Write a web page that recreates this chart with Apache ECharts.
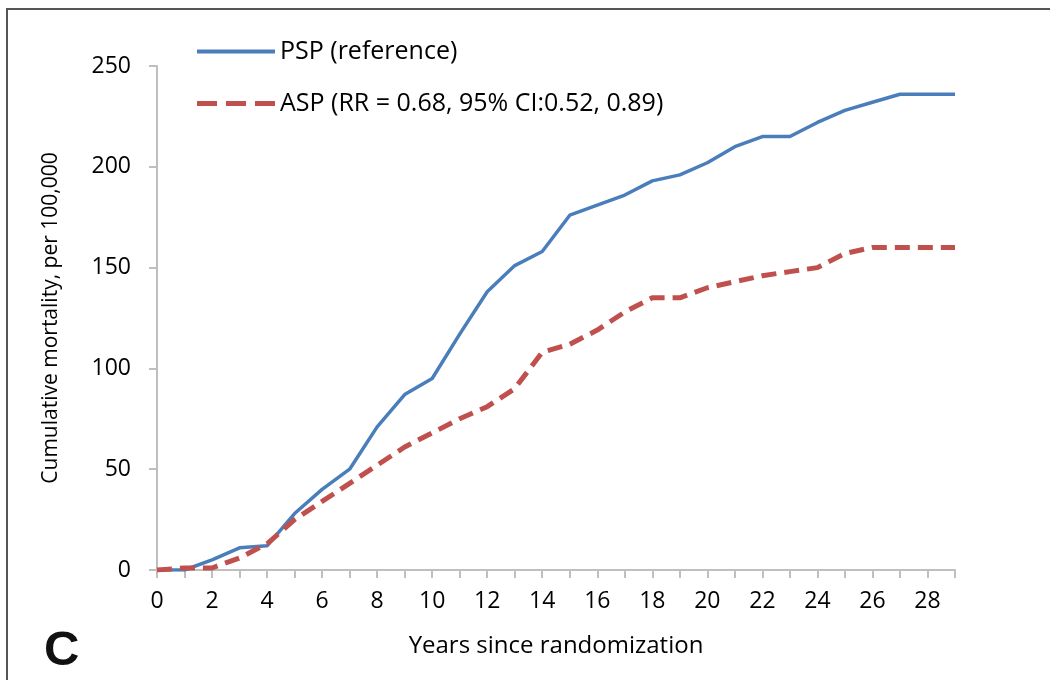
<!DOCTYPE html>
<html>
<head>
<meta charset="utf-8">
<script src="https://cdn.jsdelivr.net/npm/echarts@6/dist/echarts.min.js"></script>
<style>html,body{margin:0;padding:0;background:#fff}#c{width:1050px;height:680px}</style>
</head>
<body>
<div id="c"></div>
<script>
var years = ['0','1','2','3','4','5','6','7','8','9','10','11','12','13','14','15','16','17','18','19','20','21','22','23','24','25','26','27','28','29'];
var psp = [0,0,5,11,12,28,40,50,71,87,95,117,138,151,158,176,181,186,193,196,202,210,215,215,222,228,232,236,236,236];
var asp = [0,1,1,6,13,25,34,43,52,61,68,75,81,90,108,112,119,128,135,135,140,143,146,148,150,157,160,160,160,160];
var yTicks = [0,50,100,150,200,250];
var names = ['PSP (reference)', 'ASP (RR = 0.68, 95% CI:0.52, 0.89)'];

var font = 'Open Sans, Noto Sans, sans-serif';
var txt = '#000';
var chart = echarts.init(document.getElementById('c'));
chart.setOption({
  animation: false,
  backgroundColor: '#fff',
  textStyle: {fontFamily: font},
  graphic: [
    {type: 'rect', shape: {x: 7, y: 9, width: 1100, height: 700}, style: {fill: 'none', stroke: '#555', lineWidth: 2}},
    {type: 'text', left: 44, top: 627, style: {text: 'C', font: 'bold 49px Liberation Sans, Arial, sans-serif', fill: '#111'}}
  ],
  legend: {
    orient: 'vertical', left: 192, top: 34, itemWidth: 78, itemHeight: 5, itemGap: 27,
    textStyle: {fontSize: 25, color: txt, fontFamily: font},
    data: [
      {name: names[0], icon: 'path://M0,0h78v4h-78z'},
      {name: names[1], icon: 'path://M0,0h20v5h-20zM29,0h20v5h-20zM58,0h20v5h-20z'}
    ]
  },
  grid: {left: 157, right: 95, top: 66, bottom: 110},
  xAxis: {
    type: 'category', data: years, boundaryGap: false,
    name: 'Years since randomization', nameLocation: 'middle', nameGap: 64,
    nameTextStyle: {fontSize: 24, color: txt, fontFamily: font},
    axisLine: {lineStyle: {color: '#bfbfbf', width: 2}},
    axisTick: {show: true, interval: 0, length: 8, lineStyle: {color: '#bfbfbf', width: 2}},
    axisLabel: {interval: 1, fontSize: 23, color: txt, margin: 20, fontFamily: font},
    splitLine: {show: false}
  },
  yAxis: {
    type: 'value', min: 0, max: 250, interval: 50,
    name: 'Cumulative mortality, per 100,000', nameLocation: 'middle', nameGap: 95,
    nameTextStyle: {fontSize: 21, color: txt, fontFamily: font},
    axisLine: {show: true, lineStyle: {color: '#bfbfbf', width: 2}},
    axisTick: {show: true, length: 8, lineStyle: {color: '#bfbfbf', width: 2}},
    axisLabel: {fontSize: 23, color: txt, margin: 26, fontFamily: font,
      formatter: function (v) { return yTicks.indexOf(v) >= 0 ? String(v) : ''; }},
    splitLine: {show: false}
  },
  series: [
    {name: names[0], type: 'line', data: psp, symbol: 'none', smooth: false,
      lineStyle: {color: '#4a7ebb', width: 3.5}, itemStyle: {color: '#4a7ebb'}},
    {name: names[1], type: 'line', data: asp, symbol: 'none', smooth: false,
      lineStyle: {color: '#c0504d', width: 5, type: [15, 8]}, itemStyle: {color: '#c0504d'}}
  ]
});
</script>
</body>
</html>
